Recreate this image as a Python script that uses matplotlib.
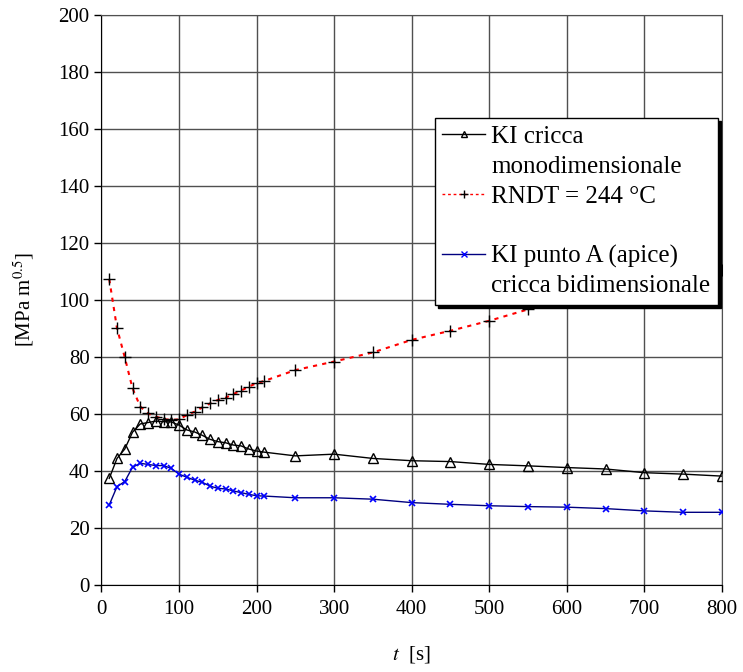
import numpy as np
import matplotlib
matplotlib.use('Agg')
import matplotlib.pyplot as plt
from matplotlib.lines import Line2D

plt.rcParams['font.family'] = ['Liberation Serif', 'DejaVu Serif']
plt.rcParams['mathtext.fontset'] = 'stix'

# time [s]
t_short = [10, 20, 30, 40, 50, 60, 70, 80, 90, 100, 110, 120, 130, 140, 150,
           160, 170, 180, 190, 200, 210]
t_long = [250, 300, 350, 400, 450, 500, 550, 600, 650, 700, 750, 800]
t_all = t_short + t_long

# KI cricca monodimensionale
ki_mono = [37.4, 44.4, 47.7, 53.6, 56.5, 57.0, 57.5, 57.3, 57.2, 56.1, 54.4,
           53.7, 52.5, 51.1, 50.3, 49.9, 49.1, 48.8, 47.7, 47.0, 46.6,
           45.3, 45.9, 44.4, 43.6, 43.3, 42.3, 41.8, 41.2, 40.7, 39.4, 38.9, 38.2]

# RNDT = 244 C
rndt = [107.3, 90.1, 79.9, 69.0, 62.6, 60.2, 59.1, 58.2, 57.9, 58.1, 59.6,
        60.8, 62.3, 63.7, 64.9, 65.7, 67.0, 68.2, 69.6, 70.8, 71.6,
        75.4, 78.4, 81.6, 86.0, 89.2, 92.7, 96.7, 100.0, 103.5, 106.5, 108.5, 110.5]

# KI punto A (apice) cricca bidimensionale
ki_bi = [28.1, 34.5, 36.3, 41.3, 42.7, 42.3, 41.9, 41.9, 40.9, 38.9, 37.8,
         36.8, 36.0, 34.7, 33.9, 33.7, 33.0, 32.4, 31.8, 31.3, 31.2,
         30.6, 30.6, 30.1, 28.9, 28.3, 27.8, 27.5, 27.3, 26.8, 26.0, 25.5, 25.5]

fig = plt.figure(figsize=(7.43, 6.72), dpi=100)
ax = fig.add_axes([0.1366, 0.1295, 0.835, 0.8482])

ax.plot(t_all, ki_mono, '-', color='black', lw=1.0, marker='^', markersize=7,
        markerfacecolor='none', markeredgecolor='black', markeredgewidth=1.0, zorder=5)
ax.plot(t_all, rndt, color='red', lw=1.5, linestyle=(0, (2, 2.5)), marker='+',
        markersize=8, markeredgecolor='black', markeredgewidth=1.0, zorder=4)
ax.plot(t_all, ki_bi, '-', color='#000080', lw=1.0, marker='x', markersize=5,
        markeredgecolor='#0000ff', markeredgewidth=1.2, zorder=5)

ax.set_xlim(0, 800)
ax.set_ylim(0, 200)
ax.set_xticks(np.arange(0, 801, 100))
ax.set_yticks(np.arange(0, 201, 20))
ax.grid(True, color='#505050', lw=1.0)
ax.set_axisbelow(True)
for s in ['top', 'right']:
    ax.spines[s].set_color('#505050')
ax.tick_params(direction='out', length=5, labelsize=15, width=1)
ax.tick_params(axis='x', pad=6)

ax.set_xlabel(r'$t$  [s]', fontsize=15, labelpad=18)
ax.set_ylabel(r'[MPa m$^{0.5}$]', fontsize=15, labelpad=16)

# legend, one row per text line
h_mono = Line2D([], [], color='black', lw=1.0, marker='^', markersize=5,
                markerfacecolor='none', markeredgecolor='black')
h_rndt = Line2D([], [], color='red', lw=1.0, linestyle=(0, (2, 2)), marker='+',
                markersize=6, markeredgecolor='black')
h_bi = Line2D([], [], color='#000080', lw=1.0, marker='x', markersize=4,
              markeredgecolor='#0000ff')
blank = Line2D([], [], color='none')
handles = [h_mono, blank, h_rndt, blank, h_bi, blank]
labels = ['KI cricca', 'monodimensionale', 'RNDT = 244 °C', ' ',
          'KI punto A (apice)', 'cricca bidimensionale']
leg = ax.legend(handles, labels, loc='upper left', bbox_to_anchor=(0.5375, 0.819),
                borderaxespad=0, fontsize=18, frameon=True, fancybox=False,
                shadow={'color': 'black', 'alpha': 1}, handlelength=1.7,
                handletextpad=0.25, labelspacing=0.29, borderpad=0.3)
leg.get_frame().set_edgecolor('black')
leg.get_frame().set_linewidth(1.0)
leg.set_zorder(10)

fig.savefig('out.png', dpi=100)
